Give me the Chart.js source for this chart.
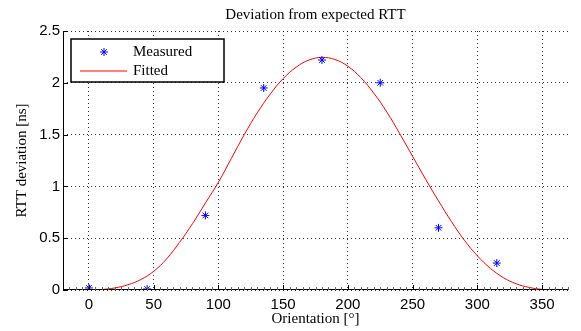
<!DOCTYPE html>
<html>
<head>
<meta charset="utf-8">
<script src="https://cdn.jsdelivr.net/npm/chart.js@4/dist/chart.umd.min.js"></script>
<style>
  html, body { margin: 0; padding: 0; background: #fff; }
  #wrap { width: 581px; height: 331px; }
</style>
</head>
<body>
<div id="wrap"><canvas id="myChart" width="581" height="331"></canvas></div>
<script>
// Measured RTT deviation per orientation
const measuredAngle = [0, 45, 90, 135, 180, 225, 270, 315];
const measuredRtt = [0.02, 0.01, 0.72, 1.95, 2.22, 2.0, 0.6, 0.26];

// Fitted curve
const fitAngle = [0, 10, 20, 30, 40, 50, 60, 70, 80, 90, 100, 110, 120, 130, 140, 150, 160, 170, 180,
    190, 200, 210, 220, 230, 240, 250, 260, 270, 280, 290, 300, 310, 320, 330, 340, 350, 360];
const fitRtt = [0, 0.005, 0.02, 0.05, 0.1, 0.18, 0.3, 0.46, 0.64, 0.84, 1.04, 1.27, 1.5, 1.71, 1.89, 2.04, 2.15, 2.22, 2.245,
    2.225, 2.16, 2.05, 1.9, 1.72, 1.51, 1.29, 1.07, 0.86, 0.66, 0.48, 0.33, 0.21, 0.12, 0.06, 0.025, 0.006, 0];

// Tick labels
const xTicks = [0, 50, 100, 150, 200, 250, 300, 350];
const yTicks = [0, 0.5, 1, 1.5, 2, 2.5];

const serif = '"Liberation Serif", "Times New Roman", serif';
const sans = '"Liberation Sans", Arial, sans-serif';

function pairs(xs, ys) {
    return xs.map((x, i) => ({ x: x, y: ys[i] }));
}

// MATLAB-ish star marker
function drawStar(ctx, x, y, r) {
    ctx.beginPath();
    ctx.moveTo(x - r, y); ctx.lineTo(x + r, y);
    ctx.moveTo(x, y - r); ctx.lineTo(x, y + r);
    const d = r * 0.7071;
    ctx.moveTo(x - d, y - d); ctx.lineTo(x + d, y + d);
    ctx.moveTo(x - d, y + d); ctx.lineTo(x + d, y - d);
    ctx.stroke();
}

const decorations = {
    id: 'decorations',
    afterDatasetsDraw(chart) {
        const ctx = chart.ctx;
        const area = chart.chartArea;
        const xs = chart.scales.x;
        const ys = chart.scales.y;
        ctx.save();
        ctx.setLineDash([]);

        // axis lines (solid)
        ctx.strokeStyle = '#000';
        ctx.lineWidth = 1;
        ctx.beginPath();
        ctx.moveTo(area.left + 0.5, area.top); ctx.lineTo(area.left + 0.5, area.bottom);
        ctx.moveTo(area.left, area.bottom - 0.5); ctx.lineTo(area.right, area.bottom - 0.5);
        ctx.stroke();

        // inner ticks
        ctx.beginPath();
        xTicks.forEach(v => {
            const px = Math.round(xs.getPixelForValue(v)) + 0.5;
            ctx.moveTo(px, area.bottom); ctx.lineTo(px, area.bottom - 5);
        });
        yTicks.forEach(v => {
            const py = Math.round(ys.getPixelForValue(v)) + 0.5;
            ctx.moveTo(area.left, py); ctx.lineTo(area.left + 5, py);
        });
        ctx.stroke();
        // minor ticks on x
        ctx.strokeStyle = '#666';
        ctx.beginPath();
        for (let v = -15; v <= 370; v += 5) {
            if (v % 50 === 0) continue;
            const px = Math.round(xs.getPixelForValue(v)) + 0.5;
            ctx.moveTo(px, area.bottom); ctx.lineTo(px, area.bottom - 3);
        }
        ctx.stroke();

        // legend box
        ctx.fillStyle = '#fff';
        ctx.fillRect(71, 39, 153, 43);
        ctx.strokeStyle = '#000';
        ctx.lineWidth = 1.5;
        ctx.strokeRect(71, 39, 153, 43);
        ctx.strokeStyle = '#0000ff';
        ctx.lineWidth = 1;
        drawStar(ctx, 104, 52, 4);
        ctx.strokeStyle = '#ff0000';
        ctx.beginPath();
        ctx.moveTo(80, 71); ctx.lineTo(127, 71);
        ctx.stroke();
        ctx.fillStyle = '#000';
        ctx.font = '15px ' + serif;
        ctx.textBaseline = 'middle';
        ctx.textAlign = 'left';
        ctx.fillText('Measured', 133, 52);
        ctx.fillText('Fitted', 133, 71);

        // title
        ctx.textAlign = 'center';
        ctx.textBaseline = 'alphabetic';
        ctx.fillText('Deviation from expected RTT', (area.left + area.right) / 2, 18.5);
        ctx.restore();
    }
};

const gridOpts = {
    color: 'rgba(0,0,0,0.8)',
    lineWidth: 1,
    drawTicks: false
};

const config = {
    type: 'scatter',
    data: {
        datasets: [{
            label: 'Measured',
            data: pairs(measuredAngle, measuredRtt),
            showLine: false,
            pointStyle: 'star',
            pointRadius: 4,
            pointBorderWidth: 1,
            borderColor: '#0000ff',
            backgroundColor: '#0000ff',
            order: 0
        }, {
            label: 'Fitted',
            data: pairs(fitAngle, fitRtt),
            showLine: true,
            pointRadius: 0,
            borderWidth: 1,
            borderColor: '#ff0000',
            tension: 0.4,
            order: 1
        }]
    },
    options: {
        responsive: false,
        animation: false,
        layout: { padding: { left: 0, right: 13, top: 31, bottom: 0 } },
        plugins: {
            legend: { display: false },
            tooltip: { enabled: false }
        },
        scales: {
            x: {
                type: 'linear',
                min: -20,
                max: 370,
                afterBuildTicks: s => { s.ticks = xTicks.map(v => ({ value: v })); },
                afterFit: s => { s.height = 41; },
                grid: gridOpts,
                border: { display: false, dash: [1, 3] },
                ticks: { color: '#000', font: { family: sans, size: 15 }, padding: 6, maxRotation: 0 },
                title: { display: true, text: 'Orientation [°]', color: '#000', font: { family: serif, size: 15 }, padding: { top: 3, bottom: 3 } }
            },
            y: {
                type: 'linear',
                min: 0,
                max: 2.5,
                afterBuildTicks: s => { s.ticks = yTicks.map(v => ({ value: v })); },
                afterFit: s => { s.width = 63; },
                grid: gridOpts,
                border: { display: false, dash: [1, 3] },
                ticks: { color: '#000', font: { family: sans, size: 15 }, padding: 3, callback: v => String(v) },
                title: { display: true, text: 'RTT deviation [ns]', color: '#000', font: { family: serif, size: 15 }, padding: { top: 13, bottom: 13 } }
            }
        }
    },
    plugins: [decorations]
};

const myChart = new Chart(document.getElementById('myChart'), config);
</script>
</body>
</html>
